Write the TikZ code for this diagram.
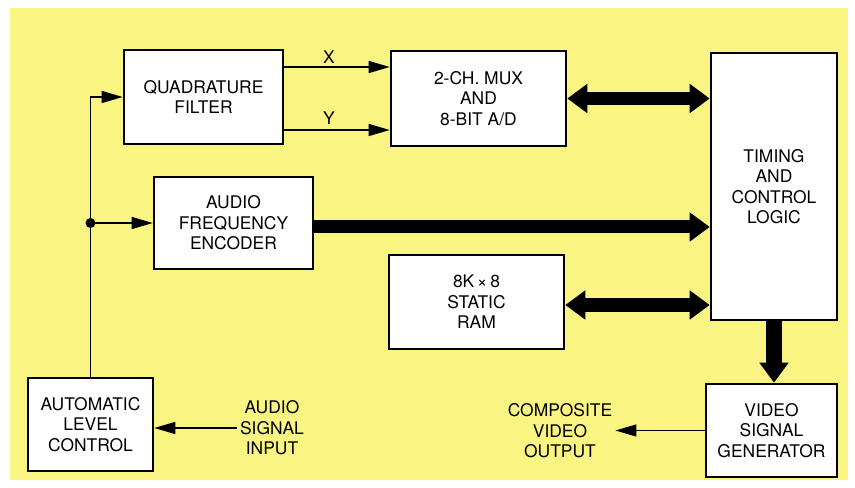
\documentclass[tikz,border=0pt]{standalone}
\usepackage{fontspec}
\setmainfont{TeX Gyre Heros}
\usetikzlibrary{arrows.meta,calc}
\definecolor{bgyellow}{RGB}{250,245,130}
\tikzset{
  blk/.style={draw, fill=white, line width=2.6bp, align=center, inner sep=0pt,
    font=\fontsize{17.5}{20.5}\selectfont},
  lbl/.style={align=center, inner sep=3bp, font=\fontsize{17.5}{20.5}\selectfont},
  thin/.style={line width=1.4bp, -{Triangle[length=21bp,width=12bp]}},
  bus/.style={line width=13bp, {Triangle[length=20bp,width=28bp]}-{Triangle[length=20bp,width=28bp]}},
  onebus/.style={line width=13bp, -{Triangle[length=20bp,width=28bp]}},
}
\begin{document}
\begin{tikzpicture}[x=1bp,y=-1bp]
\useasboundingbox (0,0) rectangle (855,488);
\fill[white] (0,0) rectangle (855,488);
\fill[bgyellow] (10,8) rectangle (848,480);

\node[blk, minimum width=159bp, minimum height=94bp] (quad) at (203.5,97) {QUADRATURE\\FILTER};
\node[blk, minimum width=175bp, minimum height=95bp] (mux) at (478.5,98.5) {2-CH. MUX\\AND\\8-BIT A/D};
\node[blk, minimum width=126bp, minimum height=267bp] (timing) at (774,186.5) {TIMING\\AND\\CONTROL\\LOGIC};
\node[blk, minimum width=159bp, minimum height=92bp] (enc) at (233.5,223) {AUDIO\\FREQUENCY\\ENCODER};
\node[blk, minimum width=175bp, minimum height=94bp] (ram) at (476.5,302) {8K\,\texttimes\,8\\STATIC\\RAM};
\node[blk, minimum width=125bp, minimum height=93bp] (alc) at (90.5,424.5) {AUTOMATIC\\LEVEL\\CONTROL};
\node[blk, minimum width=131bp, minimum height=93bp] (vsg) at (771.5,430.5) {VIDEO\\SIGNAL\\GENERATOR};

\node[lbl] (xl) at (329,57) {X};
\node[lbl] (yl) at (329,118) {Y};
\node[lbl] (ain) at (272,428) {AUDIO\\SIGNAL\\INPUT};
\node[lbl] (cvo) at (560,431) {COMPOSITE\\VIDEO\\OUTPUT};

% thin connectors
\draw[thin] (alc.north) |- (quad.west);
\coordinate (j) at (alc.north |- enc.west);
\fill (j) circle (5bp);
\draw[thin] (j) -- (enc.west);
\draw[thin] ($(quad.east)+(0,-30)$) coordinate (xs) -- (xs -| mux.west);
\draw[thin] ($(quad.east)+(0,33)$) coordinate (ys) -- (ys -| mux.west);
\draw[thin] (ain.west |- alc.east) ++(0,3.5) coordinate (as) -- (as -| alc.east);
\draw[thin] (vsg.west) -- (vsg.west -| cvo.east);

% buses
\draw[bus] (mux.east) -- (mux.east -| timing.west);
\draw[onebus] ($(enc.east)+(0,4)$) coordinate (es) -- (es -| timing.west);
\draw[bus] ($(ram.east)+(0,3)$) coordinate (rs) -- (rs -| timing.west);
\draw[line width=16bp, -{Triangle[length=20bp,width=28bp]}] (timing.south) -- (timing.south |- vsg.north);
\end{tikzpicture}
\end{document}
